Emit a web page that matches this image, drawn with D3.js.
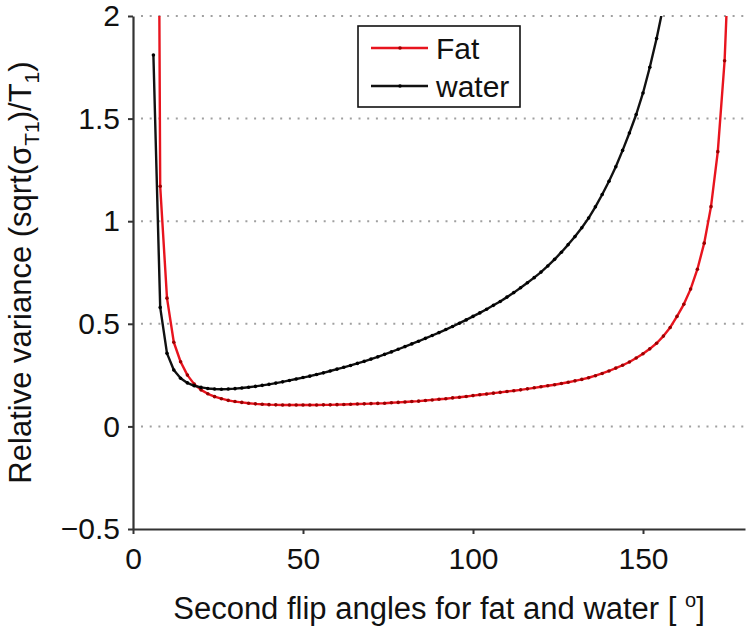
<!DOCTYPE html>
<html><head><meta charset="utf-8">
<script src="https://cdn.jsdelivr.net/npm/d3@7"></script>
<style>body{margin:0;background:#fff}</style>
</head><body>
<svg id="chart" width="750" height="626"></svg>
<script>
// ---- data ----
const fatAngles = [6,8,10,12,14,16,18,20,22,24,26,28,30,32,34,36,38,40,42,44,46,48,50,52,54,56,58,60,62,64,66,68,70,72,74,76,78,80,82,84,86,88,90,92,94,96,98,100,102,104,106,108,110,112,114,116,118,120,122,124,126,128,130,132,134,136,138,140,142,144,146,148,150,152,154,156,158,160,162,164,166,168,170,172,174,176];
const fatValues = [8.0,1.17,0.625,0.41,0.315,0.25,0.206,0.178,0.159,0.145,0.135,0.127,0.121,0.117,0.113,0.110,0.108,0.106,0.105,0.104,0.104,0.104,0.104,0.104,0.104,0.105,0.105,0.106,0.107,0.108,0.109,0.110,0.111,0.112,0.113,0.115,0.117,0.119,0.121,0.123,0.126,0.129,0.132,0.135,0.139,0.142,0.146,0.150,0.154,0.158,0.162,0.166,0.170,0.174,0.178,0.183,0.188,0.193,0.198,0.203,0.209,0.215,0.222,0.229,0.237,0.247,0.258,0.270,0.284,0.298,0.314,0.333,0.354,0.378,0.405,0.440,0.482,0.536,0.595,0.669,0.766,0.893,1.071,1.339,1.782,2.60];
const waterAngles = [6,8,10,12,14,16,18,20,22,24,26,28,30,32,34,36,38,40,42,44,46,48,50,52,54,56,58,60,62,64,66,68,70,72,74,76,78,80,82,84,86,88,90,92,94,96,98,100,102,104,106,108,110,112,114,116,118,120,122,124,126,128,130,132,134,136,138,140,142,144,146,148,150,152,154,156];
const waterValues = [1.81,0.58,0.356,0.275,0.235,0.212,0.198,0.190,0.185,0.182,0.181,0.182,0.184,0.187,0.191,0.195,0.200,0.205,0.211,0.217,0.224,0.231,0.238,0.245,0.253,0.261,0.270,0.279,0.288,0.297,0.307,0.317,0.328,0.339,0.351,0.363,0.376,0.389,0.402,0.415,0.429,0.443,0.457,0.472,0.487,0.503,0.519,0.536,0.553,0.571,0.590,0.609,0.630,0.652,0.676,0.700,0.725,0.752,0.782,0.814,0.849,0.886,0.925,0.968,1.015,1.070,1.130,1.195,1.265,1.345,1.430,1.520,1.625,1.750,1.890,2.050];
const xTicks = [0,50,100,150];
const yTicks = [-0.5,0,0.5,1,1.5,2];
const gridValues = [0,0.5,1,1.5,2];
const seriesNames = ["Fat","water"];
const xDomain = [0,180];
const yDomain = [-0.5,2];

// ---- layout ----
const FONT = "'Liberation Sans', Arial, Helvetica, sans-serif";
const L = 133, R = 745, T = 16, B = 529;
const svg = d3.select("#chart");
const x = d3.scaleLinear().domain(xDomain).range([L, R]);
const y = d3.scaleLinear().domain(yDomain).range([B, T]);
const colors = {Fat: "#e8141e", water: "#111111"};
const markerColors = {Fat: "#9a0000", water: "#000000"};

// grid
svg.append("g").selectAll("line").data(gridValues).join("line")
  .attr("x1", L + 8).attr("x2", R).attr("y1", d => y(d)).attr("y2", d => y(d))
  .attr("stroke", "#a0a0a0").attr("stroke-width", 2)
  .attr("stroke-dasharray", "2,6.7");

// clip
svg.append("clipPath").attr("id", "clip").append("rect")
  .attr("x", L).attr("y", T).attr("width", R - L).attr("height", B - T);

const series = [
  {name: "Fat", pts: fatAngles.map((a, i) => [a, fatValues[i]])},
  {name: "water", pts: waterAngles.map((a, i) => [a, waterValues[i]])}
];
const line = d3.line().x(d => x(d[0])).y(d => y(d[1]));
const plot = svg.append("g").attr("clip-path", "url(#clip)");
series.forEach(s => {
  plot.append("path").datum(s.pts).attr("d", line)
    .attr("fill", "none").attr("stroke", colors[s.name]).attr("stroke-width", 2.4)
    .attr("stroke-linejoin", "round");
  plot.append("g").selectAll("circle").data(s.pts).join("circle")
    .attr("cx", d => x(d[0])).attr("cy", d => y(d[1])).attr("r", 1.8)
    .attr("fill", markerColors[s.name]);
});

// axes
const fmt = d => d < 0 ? "\u2212" + Math.abs(d) : String(d);
const xAxis = svg.append("g").attr("transform", `translate(0,${B})`)
  .call(d3.axisBottom(x).tickValues(xTicks).tickFormat(fmt).tickSize(5).tickSizeOuter(0).tickPadding(14));
const yAxis = svg.append("g").attr("transform", `translate(${L},0)`)
  .call(d3.axisLeft(y).tickValues(yTicks).tickFormat(fmt).tickSize(5).tickSizeOuter(0).tickPadding(8));
[xAxis, yAxis].forEach(g => {
  g.select(".domain").attr("stroke", "#333").attr("stroke-width", 2.2);
  g.selectAll(".tick line").attr("stroke", "#333").attr("stroke-width", 2);
  g.selectAll(".tick text").attr("fill", "#111").style("font-family", FONT).style("font-size", "30px");
});

// x label
const xl = svg.append("text").attr("x", (L + R) / 2).attr("y", 619)
  .attr("text-anchor", "middle").attr("fill", "#111")
  .style("font-family", FONT).style("font-size", "31px");
xl.append("tspan").text("Second flip angles for fat and water [ ");
xl.append("tspan").attr("dy", -12).style("font-size", "20px").text("o");
xl.append("tspan").attr("dy", 12).text("]");

// y label
const yl = svg.append("text").attr("transform", `translate(31,${(T + B) / 2}) rotate(-90)`)
  .attr("text-anchor", "middle").attr("fill", "#111")
  .style("font-family", FONT).style("font-size", "31px");
yl.append("tspan").text("Relative variance (sqrt(\u03c3");
yl.append("tspan").attr("dy", 8).style("font-size", "21px").text("T1");
yl.append("tspan").attr("dy", -8).text(")/T");
yl.append("tspan").attr("dy", 8).style("font-size", "21px").text("1");
yl.append("tspan").attr("dy", -8).text(")");

// legend
const lg = svg.append("g");
lg.append("rect").attr("x", 358).attr("y", 26).attr("width", 162).attr("height", 81)
  .attr("fill", "#fff").attr("stroke", "#111").attr("stroke-width", 1.6);
seriesNames.forEach((n, i) => {
  const yy = 48 + i * 38;
  lg.append("line").attr("x1", 371).attr("x2", 428).attr("y1", yy).attr("y2", yy)
    .attr("stroke", colors[n]).attr("stroke-width", 2.4);
  lg.append("circle").attr("cx", 400).attr("cy", yy).attr("r", 1.8).attr("fill", markerColors[n]);
  lg.append("text").attr("x", 436).attr("y", yy + 11).attr("fill", "#111")
    .style("font-family", FONT).style("font-size", "30px").text(n);
});
</script>
</body></html>
